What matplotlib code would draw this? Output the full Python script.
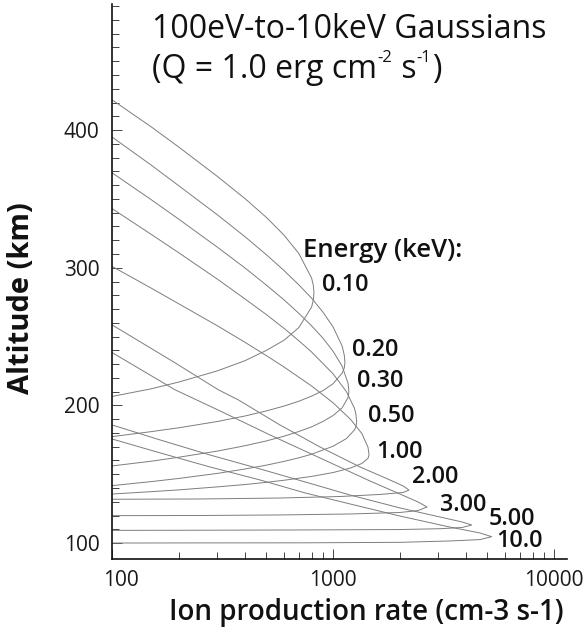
import matplotlib
matplotlib.use("Agg")
import matplotlib.pyplot as plt
from matplotlib.ticker import NullFormatter
from matplotlib.transforms import ScaledTranslation

plt.rcParams['font.family'] = ['Open Sans', 'DejaVu Sans']

# ---------------- data (rate in cm-3 s-1, altitude in km) ----------------
rate_010 = [100, 150, 200, 300, 400, 500, 600, 700, 800, 815, 820, 815, 800, 700, 600, 500, 400, 300, 200, 150, 100]
alt_010 = [422, 402.5, 387.8, 366.3, 350.2, 336.5, 323.7, 310.4, 292.5, 287, 282, 276.6, 271.4, 256.5, 247.3, 240,
           232.5, 225.1, 216.9, 212, 206.5]

rate_020 = [100, 150, 200, 300, 400, 500, 600, 700, 800, 900, 1000, 1100, 1125, 1132, 1125, 1100, 1000, 900, 800, 700,
            600, 500, 400, 300, 200, 150, 100]
alt_020 = [395, 374.7, 359.7, 338.4, 322.5, 309.4, 298, 287.6, 277.9, 267.8, 257.1, 243.1, 236.4, 231, 227.3, 223.4,
           215.7, 210.7, 206.7, 203, 199.5, 196, 192.3, 188.3, 183.7, 180.9, 177.3]

rate_030 = [100, 150, 200, 300, 400, 500, 600, 700, 800, 900, 1000, 1100, 1170, 1180, 1170, 1100, 1000, 900, 800, 700,
            600, 500, 400, 300, 200, 150, 100]
alt_030 = [369, 349.6, 335.4, 314.9, 299.8, 287.3, 276.7, 266.9, 257.8, 248.9, 239.4, 228.5, 216, 210, 205.7, 198.2,
           192.6, 188.3, 184.4, 181, 177.6, 174.2, 170.7, 166.8, 162.3, 159.4, 156]

rate_050 = [100, 150, 200, 300, 400, 500, 600, 700, 800, 1000, 1150, 1250, 1270, 1280, 1270, 1250, 1150, 1000, 800,
            700, 600, 500, 400, 300, 200, 150, 100]
alt_050 = [343, 324.4, 311, 291.7, 277.3, 265.9, 256, 247, 238.8, 223, 210, 197.9, 193.5, 188, 184.5, 182.1, 175.9,
           170.3, 164.5, 161.9, 159.3, 156.6, 153.8, 150.6, 146.9, 144.6, 141.7]

rate_100 = [100, 150, 200, 300, 400, 500, 600, 800, 1000, 1200, 1350, 1440, 1456, 1440, 1350, 1200, 1000, 800, 600,
            500, 400, 300, 200, 150, 100]
alt_100 = [301, 285.3, 273.9, 257.8, 245.8, 236.1, 227.9, 214.1, 201.9, 189.9, 179.6, 169.6, 164, 161.5, 157.8, 154.5,
           151.2, 148.4, 145.6, 144.1, 142.5, 140.8, 138.6, 137.3, 135.6]

rate_200 = [100, 193, 303, 373, 575, 873, 1324, 1811, 2075, 2207, 2075, 1633, 1076, 575, 250, 100]
alt_200 = [258.5, 230.9, 211.3, 204, 185.8, 169.8, 155.3, 145.8, 141.5, 138.5, 136.7, 135.3, 133.8, 132.7, 132, 131.8]

rate_300 = [100, 193, 308, 519, 873, 1469, 2009, 2427, 2662, 2427, 2009, 1194, 575, 250, 100]
alt_300 = [238.4, 211.3, 196, 178.5, 161.8, 145.1, 135.6, 129.8, 126.2, 123.6, 122.2, 121.1, 120.4, 120, 119.9]

rate_500 = [100, 165, 277, 468, 747, 1194, 2009, 3049, 3838, 4245, 3838, 3049, 2009, 710, 250, 100]
alt_500 = [185.8, 174.9, 164, 153.8, 144.4, 134.9, 125.5, 118.9, 115.3, 113.1, 111.3, 110.4, 109.8, 109.5, 109.3, 109.2]

rate_1000 = [100, 165, 277, 468, 747, 1194, 2009, 3382, 4625, 5224, 4625, 3382, 2009, 710, 250, 100]
alt_1000 = [175.6, 165.5, 155.3, 145.8, 136.4, 128.4, 119.6, 111.6, 107.3, 104.6, 102.5, 101.5, 100.5, 100.15, 100.1,
            100.0]

energy_labels = ["0.10", "0.20", "0.30", "0.50", "1.00", "2.00", "3.00", "5.00", "10.0"]
x_ticks = [100, 1000, 10000]
x_tick_labels = ["100", "1000", "10000"]
x_minor = [200, 300, 400, 500, 600, 700, 800, 900, 2000, 3000, 4000, 5000, 6000, 7000, 8000, 9000]
y_ticks = [100, 200, 300, 400]
y_tick_labels = ["100", "200", "300", "400"]
y_minor = list(range(100, 500, 10))

curves = [(rate_010, alt_010), (rate_020, alt_020), (rate_030, alt_030), (rate_050, alt_050),
          (rate_100, alt_100), (rate_200, alt_200), (rate_300, alt_300), (rate_500, alt_500),
          (rate_1000, alt_1000)]

# label anchor positions in pixels (left, baseline)
label_px = [(321.7, 291), (351.7, 356), (356.7, 386.7), (368.3, 421.7), (376, 458.3),
            (411.7, 483.3), (440, 510.7), (488.3, 525), (496.7, 546.7)]

W, H = 584, 632
fig = plt.figure(figsize=(W / 100, H / 100), dpi=100)
ax = fig.add_axes([112 / W, 1 - 559 / H, 455 / W, 555 / H])

for r, a in curves:
    ax.plot(r, a, color='#7d7d7d', lw=0.7, solid_joinstyle='round')

ax.set_xscale('log')
ax.set_xlim(100, 11450)
ax.set_ylim(88.4, 491.6)
for s in ['top', 'right']:
    ax.spines[s].set_visible(False)
for s in ['left', 'bottom']:
    ax.spines[s].set_linewidth(1.2)
    ax.spines[s].set_color('#111111')

ax.set_xticks(x_ticks, labels=x_tick_labels)
ax.set_xticks(x_minor, minor=True)
ax.xaxis.set_minor_formatter(NullFormatter())
ax.set_yticks(y_ticks, labels=y_tick_labels)
ax.set_yticks(y_minor, minor=True)
ax.yaxis.set_minor_formatter(NullFormatter())

ax.tick_params(which='both', direction='in', color='#444444', width=0.7, labelcolor='#1a1a1a')
ax.tick_params(which='major', length=7.2, labelsize=15)
ax.tick_params(which='minor', length=4.8)
ax.tick_params(axis='y', which='major', pad=9)
ax.tick_params(axis='x', which='major', pad=8)

first = ax.xaxis.get_major_ticks()[0].label1
first.set_transform(first.get_transform() + ScaledTranslation(9 / 100, 0, fig.dpi_scale_trans))

renderer = fig.canvas.get_renderer()

# titles
fig.text(152 / W, 1 - 38 / H, "100eV-to-10keV Gaussians", fontsize=23, ha='left', va='baseline', color='#111111')
pieces = [("(Q = 1.0 erg cm", 23, 0), ("-2", 12, 15.5), (" s", 23, 0), ("-1", 12, 15.5), (")", 23, 0)]
xpos = 152
for txt, size, rise in pieces:
    t = fig.text(xpos / W, 1 - (78 - rise) / H, txt, fontsize=size, ha='left', va='baseline', color='#111111')
    xpos += t.get_window_extent(renderer).width + (1 if size < 20 else 0)

fig.text(303 / W, 1 - 256.7 / H, "Energy (keV):", fontsize=18.5, fontweight='semibold', ha='left', va='baseline',
         color='#111111')
for lab, (px, py) in zip(energy_labels, label_px):
    fig.text(px / W, 1 - py / H, lab, fontsize=16.8, fontweight='semibold', ha='left', va='baseline',
             color='#111111')

fig.text(366 / W, 1 - 620 / H, "Ion production rate (cm-3 s-1)", fontsize=20, fontweight='semibold',
         ha='center', va='baseline', color='#111111')
fig.text(22 / W, 1 - 298 / H, "Altitude (km)", fontsize=21, fontweight='bold', rotation=90,
         ha='center', va='center', color='#111111')

fig.savefig("out.png", dpi=100)
